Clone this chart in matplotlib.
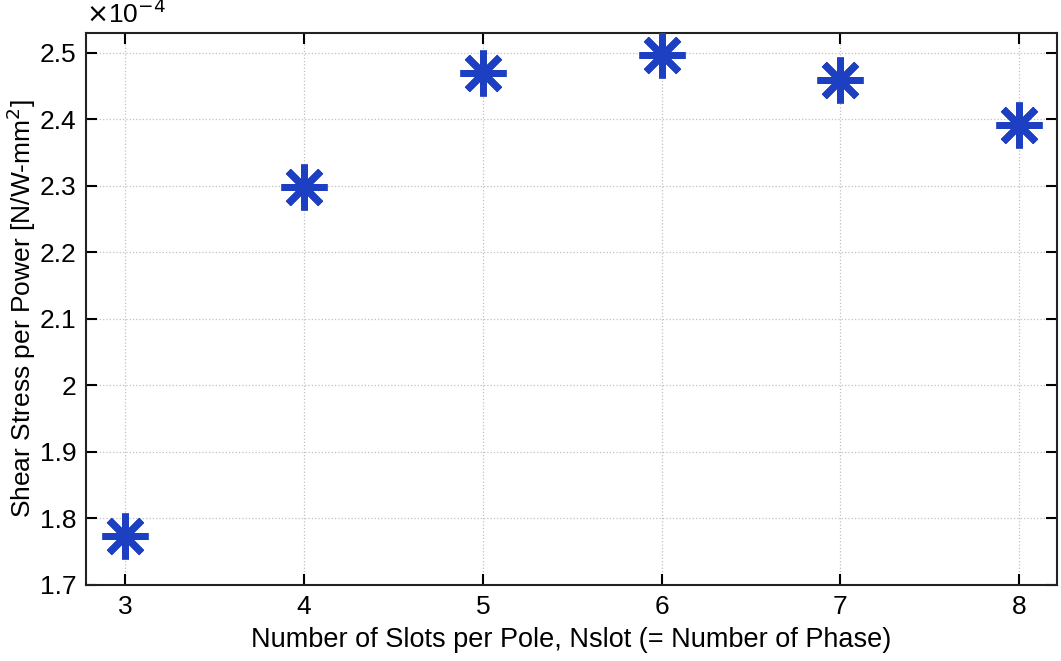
import numpy as np
import matplotlib
matplotlib.use("Agg")
import matplotlib.pyplot as plt

plt.rcParams['font.family'] = ['Liberation Sans', 'DejaVu Sans']

# number of slots per pole and shear stress per power (x1e-4 N/W-mm^2)
nslot = [3, 4, 5, 6, 7, 8]
shear_per_power = [1.773, 2.299, 2.470, 2.497, 2.460, 2.391]

xticks = [3, 4, 5, 6, 7, 8]
yticks = [1.7, 1.8, 1.9, 2.0, 2.1, 2.2, 2.3, 2.4, 2.5]
ytick_labels = ['1.7', '1.8', '1.9', '2', '2.1', '2.2', '2.3', '2.4', '2.5']

fig = plt.figure(figsize=(10.61, 6.61), dpi=100)
ax = fig.add_axes([0.081, 0.115, 0.915, 0.835])

ax.plot(nslot, shear_per_power, linestyle='none', marker=(8, 2, 0),
        markersize=33, markeredgewidth=5, color='#1d3fc2', zorder=3)

ax.set_xlim(2.78, 8.21)
ax.set_ylim(1.7, 2.53)
ax.set_xticks(xticks)
ax.set_yticks(yticks)
ax.set_yticklabels(ytick_labels)

ax.grid(True, linestyle=':', color='#c0c0c0', linewidth=0.9)
ax.tick_params(direction='in', length=8, width=1.5, labelsize=19, pad=7,
               top=True, right=True, labeltop=False, labelright=False)
for s in ax.spines.values():
    s.set_linewidth(1.5)
    s.set_color('#222222')

ax.set_xlabel('Number of Slots per Pole, Nslot (= Number of Phase)', fontsize=19.5, labelpad=6)
ax.set_ylabel('Shear Stress per Power [N/W-mm$^2$]', fontsize=19, labelpad=1)
ax.text(0.0, 1.01, r'$\times$10$^{-4}$', transform=ax.transAxes,
        fontsize=19, ha='left', va='bottom')

fig.savefig('out.png', dpi=100)
